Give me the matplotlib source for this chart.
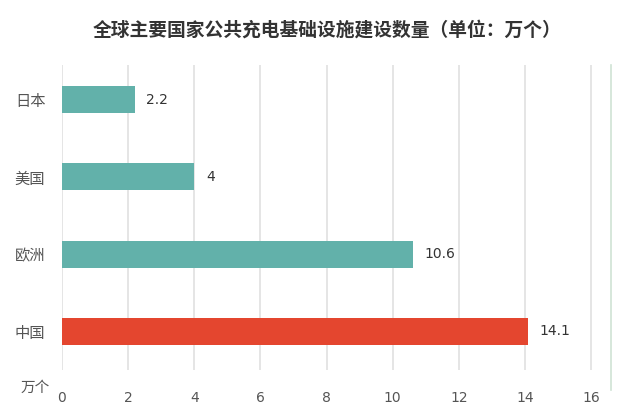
import matplotlib
matplotlib.use("Agg")
import matplotlib.pyplot as plt
from matplotlib.lines import Line2D

plt.rcParams['font.family'] = ['Noto Sans CJK SC', 'DejaVu Sans']

categories = ['中国', '欧洲', '美国', '日本']
values = [14.1, 10.6, 4, 2.2]
colors = ['#e4462f', '#62b1aa', '#62b1aa', '#62b1aa']
value_labels = ['14.1', '10.6', '4', '2.2']
xticks = [0, 2, 4, 6, 8, 10, 12, 14, 16]
title = '全球主要国家公共充电基础设施建设数量（单位：万个）'
unit_label = '万个'

fig = plt.figure(figsize=(6.26, 4.18), dpi=100)
fig.patch.set_facecolor('white')
ax = fig.add_axes([62/626, 1-370/418, (611-62)/626, (370-65)/418])

ypos = list(range(len(categories)))
ax.barh(ypos, values, height=0.35, color=colors, zorder=3)
for y, v, lab in zip(ypos, values, value_labels):
    ax.text(v + 0.35, y, lab, va='center', ha='left', fontsize=10, color='#333333',
            family=['DejaVu Sans'])

ax.set_xlim(0, 16.6)
ax.set_ylim(-0.5, 3.45)
ax.set_xticks(xticks)
ax.set_xticklabels([str(t) for t in xticks], fontsize=10, color='#555555', family=['DejaVu Sans'])
ax.set_yticks(ypos)
ax.set_yticklabels(categories, fontsize=11, color='#555555')
ax.tick_params(axis='x', length=0, pad=15)
ax.tick_params(axis='y', length=0, pad=12)
ax.grid(axis='x', color='#e0e0e0', linewidth=1.2, zorder=0)
for s in ['top', 'left', 'bottom', 'right']:
    ax.spines[s].set_visible(False)

fig.add_artist(Line2D([611/626, 611/626], [1-65/418, 1-390/418], transform=fig.transFigure,
                      color='#cfe3d4', linewidth=1.2))

fig.text(327/626, 1-30/418, title, ha='center', va='center', fontsize=13.5,
         fontweight='bold', color='#333333')
fig.text(35/626, 1-388/418, unit_label, ha='center', va='center', fontsize=10.5, color='#555555')

fig.savefig('out.png', dpi=100, facecolor='white')
